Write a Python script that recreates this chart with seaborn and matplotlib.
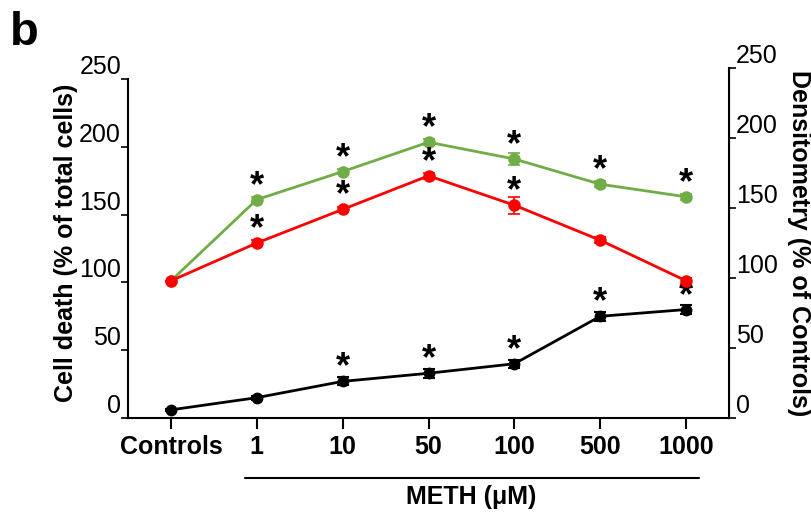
import matplotlib
matplotlib.use("Agg")
import pandas as pd
import matplotlib.pyplot as plt
import seaborn as sns

# DATA
doses = ["Controls", "1", "10", "50", "100", "500", "1000"]

cell_death = [6, 15, 27, 33, 40, 75, 80]
cell_death_err = [1, 1.5, 3, 3.5, 3, 3.5, 3]
cell_death_sig = [False, False, True, True, True, True, True]

dens_green = [98, 156, 176, 197, 185, 167, 158]
dens_green_err = [0, 2, 2, 2, 4, 2, 2]
dens_green_sig = [False, True, True, True, True, True, True]

dens_red = [98, 125, 149, 173, 152, 127, 98]
dens_red_err = [0, 2, 2, 2, 6, 2, 2]
dens_red_sig = [False, True, True, True, True, False, False]

left_ticks = [0, 50, 100, 150, 200, 250]
right_ticks = [0, 50, 100, 150, 200, 250]

GREEN = "#70AD47"
RED = "#FF0000"

sns.set_style("ticks")
plt.rcParams["font.family"] = ["Liberation Sans", "DejaVu Sans"]
plt.rcParams["text.color"] = "black"
plt.rcParams["axes.labelcolor"] = "black"
plt.rcParams["xtick.color"] = "black"
plt.rcParams["ytick.color"] = "black"
plt.rcParams["axes.edgecolor"] = "black"

df_black = pd.DataFrame({"dose": doses, "value": cell_death})
df_green = pd.DataFrame({"dose": doses, "value": dens_green})
df_red = pd.DataFrame({"dose": doses, "value": dens_red})

fig = plt.figure(figsize=(8.11, 5.12), dpi=100)
ax = fig.add_axes([128 / 811, 1 - 418 / 512, 601 / 811, 350 / 512])
ax2 = ax.twinx()

# CELL DEATH (left axis)
sns.lineplot(data=df_black, x="dose", y="value", ax=ax, color="black",
             marker="o", markersize=8.5, markeredgewidth=0, linewidth=2, sort=False)
ax.errorbar(doses, cell_death, yerr=cell_death_err, fmt="none", ecolor="black",
            elinewidth=1.5, capsize=4, capthick=1.5)

# DENSITOMETRY (right axis)
for df, err, col in [(df_green, dens_green_err, GREEN), (df_red, dens_red_err, RED)]:
    sns.lineplot(data=df, x="dose", y="value", ax=ax2, color=col,
                 marker="o", markersize=9, markeredgewidth=0, linewidth=2, sort=False)
    ax2.errorbar(doses, df["value"], yerr=err, fmt="none", ecolor=col,
                 elinewidth=1.2, capsize=4, capthick=1.2)

# SIGNIFICANCE STARS
def stars(axis, values, sig):
    for d, v, s in zip(doses, values, sig):
        if s:
            axis.annotate("*", xy=(d, v), xytext=(0, -3), textcoords="offset points",
                          ha="center", va="bottom", fontsize=26, fontweight="bold")

stars(ax, cell_death, cell_death_sig)
stars(ax2, dens_green, dens_green_sig)
stars(ax2, dens_red, dens_red_sig)

# AXES
ax.set_xlim(-0.5, 6.5)
ax.set_ylim(0, 250 * 350 / 339)
ax2.set_ylim(0, 250)

ax.set_yticks(left_ticks)
ax.set_yticklabels([str(t) for t in left_ticks], fontsize=18, va="bottom")
ax2.set_yticks(right_ticks)
ax2.set_yticklabels([str(t) for t in right_ticks], fontsize=18, va="bottom")
ax.set_xticks(range(len(doses)))
ax.set_xticklabels(doses, fontsize=18, fontweight="bold")

ax.tick_params(axis="y", length=5, width=1.2, pad=0)
ax2.tick_params(axis="y", length=5, width=1.2, pad=0)
ax.tick_params(axis="x", length=8, width=1.5, pad=4)

ax.spines["top"].set_visible(False)
ax2.spines["top"].set_visible(False)
ax.spines["left"].set_bounds(0, 250)
for sp in ["left", "bottom"]:
    ax.spines[sp].set_linewidth(1.5)
ax2.spines["right"].set_linewidth(1.5)
ax2.spines["right"].set_visible(True)
ax2.spines["left"].set_visible(False)
ax2.spines["bottom"].set_visible(False)

ax.set_xlabel("")
ax.set_ylabel("Cell death (% of total cells)", fontsize=18, fontweight="bold", labelpad=1)
ax2.set_ylabel("Densitometry (% of Controls)", fontsize=18, fontweight="bold",
               rotation=-90, labelpad=24)

# METH bracket line and label
ax.plot([0.86, 6.15], [-0.171, -0.171], transform=ax.get_xaxis_transform(),
        clip_on=False, color="black", linewidth=1.5)
ax.text(3.5, -0.225, "METH (\u03bcM)", transform=ax.get_xaxis_transform(),
        ha="center", va="center", fontsize=18, fontweight="bold")

fig.text(0.012, 0.978, "b", ha="left", va="top", fontsize=34, fontweight="bold")

fig.savefig("out.png", dpi=100)
